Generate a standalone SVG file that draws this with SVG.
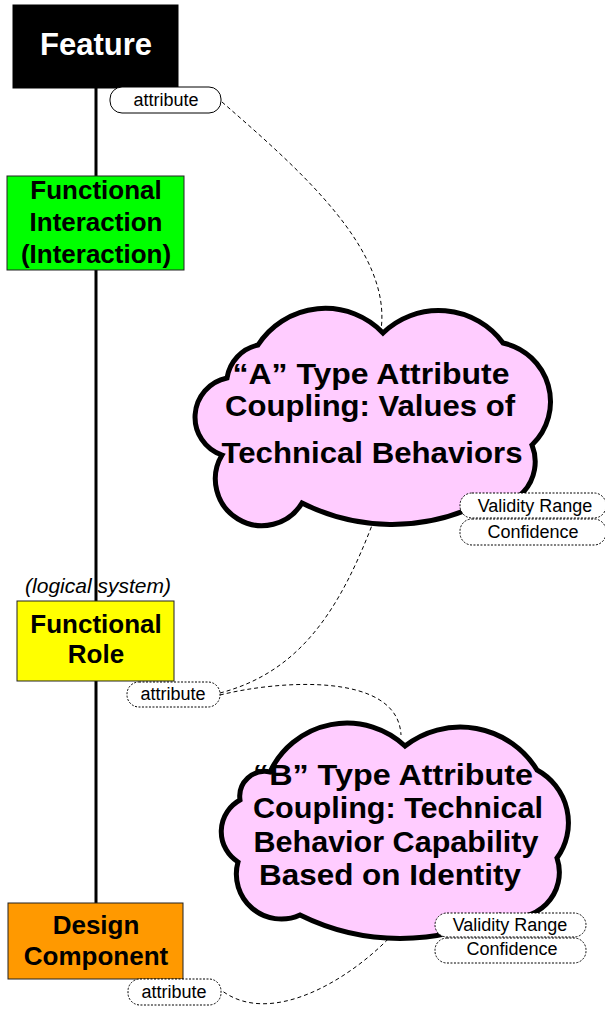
<svg xmlns="http://www.w3.org/2000/svg" width="605" height="1012" viewBox="0 0 605 1012">
  <style>
    .box { stroke: #222; stroke-width: 1; }
    .title { font-family: "Liberation Sans", Arial, sans-serif; font-weight: bold; text-anchor: middle; fill: #000; }
    .small { font-family: "Liberation Sans", Arial, sans-serif; font-size: 18px; text-anchor: middle; fill: #000; }
    .pill { fill: #fff; stroke: #000; stroke-width: 1; }
    .pill-dot { fill: #fff; stroke: #000; stroke-width: 1; stroke-dasharray: 2 1.5; }
    .link { fill: none; stroke: #000; stroke-width: 1; stroke-dasharray: 4 3; }
    .cloud { fill: #ffccff; stroke: #000; stroke-width: 5; stroke-linejoin: miter; }
  </style>

  <!-- backbone joining the four levels -->
  <g id="backbone">
    <line x1="96" y1="88" x2="96" y2="903" stroke="#000" stroke-width="3"/>
  </g>

  <!-- dashed couplings between attributes and clouds -->
  <g id="connectors">
    <path class="link" d="M222,102 C300,170 392,250 381,330"/>
    <path class="link" d="M374,520 C340,610 300,672 220,693"/>
    <path class="link" d="M220,695 C280,680 398,672 401,735"/>
    <path class="link" d="M393,934 C350,980 270,1028 221,990"/>
  </g>

  <g id="feature">
    <rect x="13" y="5" width="165" height="83" fill="#000" stroke="#000"/>
    <text class="title" x="96" y="55" font-size="31" style="fill:#fff">Feature</text>
  </g>

  <g id="attribute-feature">
    <rect class="pill" x="110" y="87" width="111" height="26" rx="12" ry="12"/>
    <text class="small" x="166" y="106">attribute</text>
  </g>

  <g id="functional-interaction">
    <rect class="box" x="7" y="176" width="177" height="94" fill="#00ff00"/>
    <text class="title" x="96" y="199" font-size="26">Functional</text>
    <text class="title" x="96" y="231" font-size="26">Interaction</text>
    <text class="title" x="96" y="263" font-size="26">(Interaction)</text>
  </g>

  <g id="cloud-a">
    <path class="cloud" d="M258,345 A80,80 0 0 1 383,333 A80,80 0 0 1 503,343 A60,60 0 0 1 532,445 A45,45 0 0 1 478,505 A200,200 0 0 1 302,503 A45,45 0 0 1 222,455 A40,40 0 0 1 227,378 A40,40 0 0 1 258,345 Z"/>
    <text class="title" x="371" y="384" font-size="29" textLength="277" lengthAdjust="spacingAndGlyphs">“A” Type Attribute</text>
    <text class="title" x="370" y="416" font-size="29" textLength="290" lengthAdjust="spacingAndGlyphs">Coupling: Values of</text>
    <text class="title" x="372" y="463" font-size="29" textLength="301" lengthAdjust="spacingAndGlyphs">Technical Behaviors</text>
  </g>

  <g id="validity-a">
    <rect class="pill-dot" x="460" y="493" width="146" height="25" rx="12" ry="12"/>
    <text class="small" x="535" y="512">Validity Range</text>
  </g>
  <g id="confidence-a">
    <rect class="pill-dot" x="460" y="519" width="146" height="26" rx="12" ry="12"/>
    <text class="small" x="533" y="538">Confidence</text>
  </g>

  <g id="functional-role">
    <text x="98" y="593" font-family="Liberation Sans, Arial, sans-serif" font-size="21" font-style="italic" text-anchor="middle">(logical system)</text>
    <rect class="box" x="17" y="601" width="157" height="80" fill="#ffff00"/>
    <text class="title" x="96" y="633" font-size="26">Functional</text>
    <text class="title" x="96" y="663" font-size="26">Role</text>
  </g>

  <g id="attribute-role">
    <rect class="pill-dot" x="127" y="682" width="93" height="25" rx="12" ry="12"/>
    <text class="small" x="173" y="700">attribute</text>
  </g>

  <g id="cloud-b">
    <path class="cloud" d="M270,772 A85,85 0 0 1 405,746 A90,90 0 0 1 537,770 A60,60 0 0 1 557,858 A45,45 0 0 1 500,915 A225,225 0 0 1 300,915 A45,45 0 0 1 238,862 A36,36 0 0 1 240,800 A25,25 0 0 1 270,772 Z"/>
    <text class="title" x="393" y="785" font-size="29" textLength="280" lengthAdjust="spacingAndGlyphs">“B” Type Attribute</text>
    <text class="title" x="398" y="818" font-size="29" textLength="290" lengthAdjust="spacingAndGlyphs">Coupling: Technical</text>
    <text class="title" x="396" y="852" font-size="29" textLength="285" lengthAdjust="spacingAndGlyphs">Behavior Capability</text>
    <text class="title" x="390" y="885" font-size="29" textLength="262" lengthAdjust="spacingAndGlyphs">Based on Identity</text>
  </g>

  <g id="validity-b">
    <rect class="pill-dot" x="435" y="913" width="151" height="24" rx="12" ry="12"/>
    <text class="small" x="510" y="931">Validity Range</text>
  </g>
  <g id="confidence-b">
    <rect class="pill-dot" x="435" y="938" width="151" height="25" rx="12" ry="12"/>
    <text class="small" x="512" y="955">Confidence</text>
  </g>

  <g id="design-component">
    <rect class="box" x="8" y="903" width="175" height="76" fill="#ff9900"/>
    <text class="title" x="96" y="934" font-size="26">Design</text>
    <text class="title" x="96" y="965" font-size="26">Component</text>
  </g>

  <g id="attribute-component">
    <rect class="pill-dot" x="128" y="979" width="93" height="26" rx="12" ry="12"/>
    <text class="small" x="174" y="998">attribute</text>
  </g>
</svg>
